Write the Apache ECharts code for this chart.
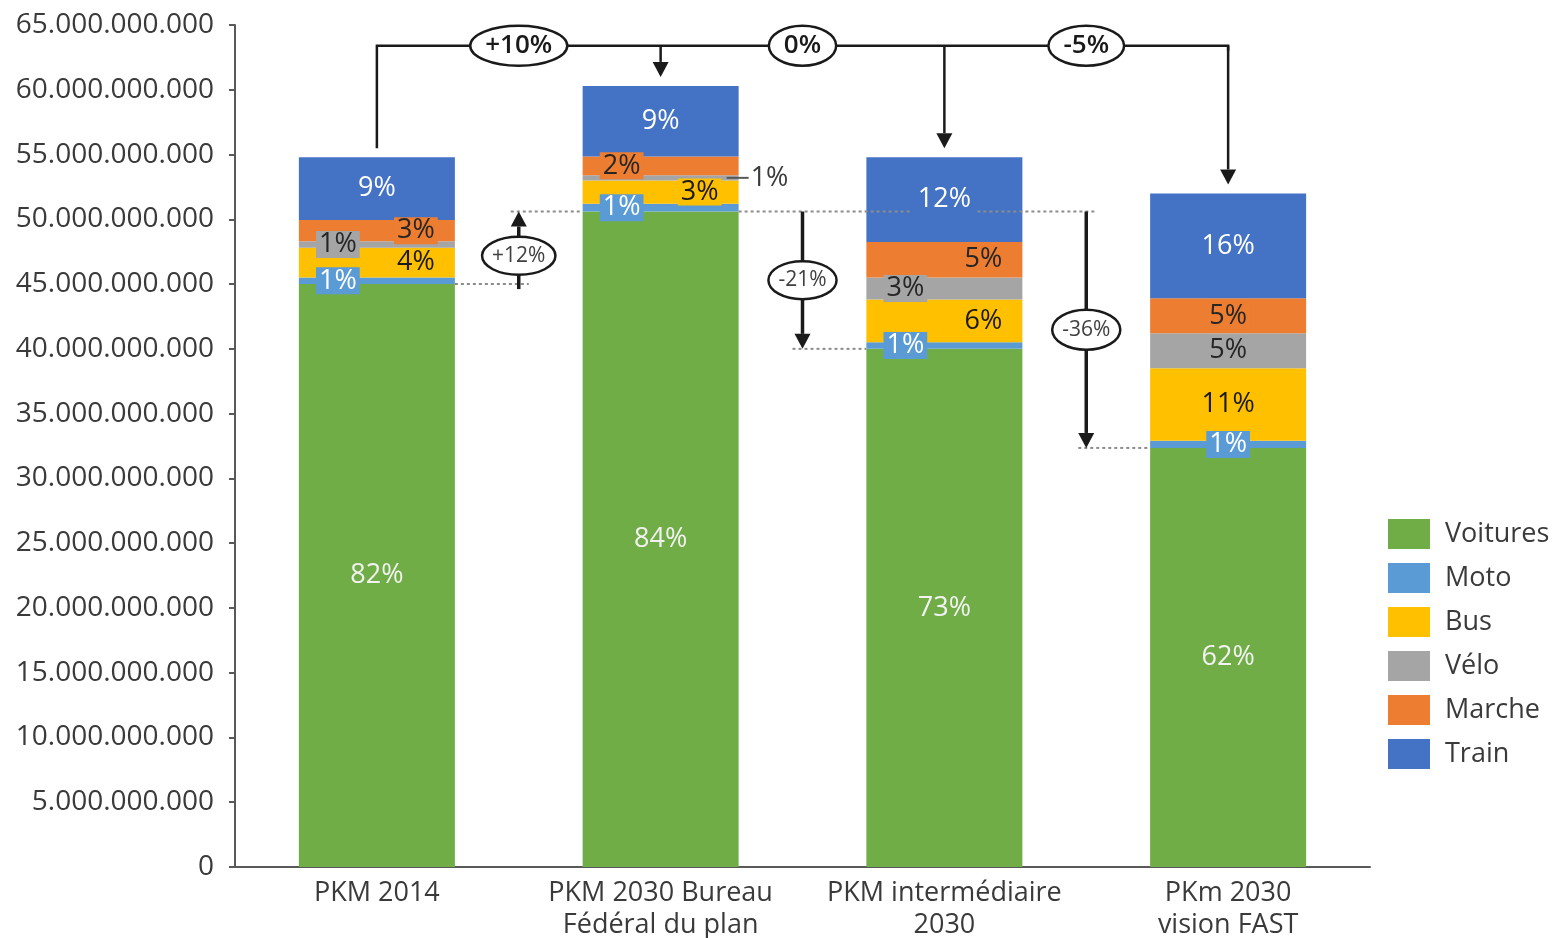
<!DOCTYPE html>
<html>
<head>
<meta charset="utf-8">
<script src="https://cdn.jsdelivr.net/npm/echarts@6/dist/echarts.min.js"></script>
<style>
  html, body { margin: 0; padding: 0; background: #ffffff; }
  #chart { width: 1552px; height: 938px; }
</style>
</head>
<body>
<div id="chart"></div>
<script>
// Passenger-kilometres by transport mode, four scenarios
const categories = ['PKM 2014', 'PKM 2030 Bureau\nFédéral du plan', 'PKM intermédiaire\n2030', 'PKm 2030\nvision FAST'];
const voitures = [45.0e9, 50.6e9, 40.0e9, 32.35e9];
const moto     = [0.5e9, 0.6e9, 0.5e9, 0.55e9];
const bus      = [2.3e9, 1.8e9, 3.3e9, 5.6e9];
const velo     = [0.5e9, 0.4e9, 1.7e9, 2.7e9];
const marche   = [1.65e9, 1.45e9, 2.75e9, 2.7e9];
const train    = [4.85e9, 5.45e9, 6.55e9, 8.1e9];
const seriesNames = ['Voitures', 'Moto', 'Bus', 'Vélo', 'Marche', 'Train'];
const yMax = 65e9;
const yStep = 5e9;

const values = [voitures, moto, bus, velo, marche, train];
const colors = ['#70AD47', '#5B9BD5', '#FFC000', '#A5A5A5', '#ED7D31', '#4472C4'];
const FONT = 'Open Sans';
const BAR_W = 156;
const INK = '#1a1a1a';
const TXT = '#3a3a3a';

const totals = categories.map((_, i) => values.reduce((s, arr) => s + arr[i], 0));
const pct = r => Math.round(r * 100) + '%';
const signedPct = r => {
  const n = Math.round(r * 100);
  return (n > 0 ? '+' : '') + n + '%';
};

// where each segment's share label sits: 0 centred, -1 left, 1 right, 'out' beside the bar
const labelSide = [
  [0, 0, 0, 0],
  [-1, -1, -1, 0],
  [1, 1, 1, 0],
  [-1, 'out', -1, 0],
  [1, -1, 1, 0],
  [0, 0, 0, 0]
];
const labelLook = [
  { color: '#F2F2F2' },
  { color: '#ffffff', backgroundColor: '#5B9BD5', padding: [0, 3] },
  { color: '#1a1a1a', backgroundColor: '#FFC000', padding: [0, 3] },
  { color: '#262626', backgroundColor: '#A5A5A5', padding: [0, 3] },
  { color: '#262626', backgroundColor: '#ED7D31', padding: [0, 3] },
  { color: '#ffffff' }
];

const thousands = v => String(Math.round(v)).replace(/\B(?=(\d{3})+(?!\d))/g, '.');

const series = seriesNames.map((name, s) => ({
  name,
  type: 'bar',
  stack: 'pkm',
  barWidth: BAR_W,
  itemStyle: { color: colors[s] },
  emphasis: { disabled: true },
  data: values[s].map((v, i) => {
    const side = labelSide[s][i];
    const label = side === 'out'
      ? { position: 'right', distance: 12, color: TXT, backgroundColor: 'transparent' }
      : Object.assign({ position: 'inside', offset: [side * 39, 0] }, labelLook[s]);
    return { value: v, label };
  }),
  label: {
    show: true,
    fontFamily: FONT,
    fontSize: 27,
    lineHeight: 27,
    formatter: p => pct(p.value / totals[p.dataIndex])
  }
}));

const chart = echarts.init(document.getElementById('chart'), null, { renderer: 'canvas' });
chart.setOption({
  animation: false,
  backgroundColor: '#ffffff',
  textStyle: { fontFamily: FONT },
  grid: { left: 235, right: 182, top: 25, bottom: 71, containLabel: false, outerBoundsMode: 'none' },
  legend: {
    orient: 'vertical',
    left: 1383,
    top: 514,
    icon: 'rect',
    itemWidth: 42,
    itemHeight: 30,
    itemGap: 14,
    data: seriesNames,
    textStyle: { fontFamily: FONT, fontSize: 27, color: TXT, padding: [0, 0, 0, 10] }
  },
  xAxis: {
    type: 'category',
    data: categories,
    axisLine: { lineStyle: { color: '#595959', width: 2 } },
    axisTick: { show: false },
    axisLabel: { fontFamily: FONT, fontSize: 27, lineHeight: 32, color: TXT, margin: 10, interval: 0 }
  },
  yAxis: {
    type: 'value',
    min: 0,
    max: yMax,
    interval: yStep,
    splitLine: { show: false },
    axisLine: { show: true, lineStyle: { color: '#595959', width: 2 } },
    axisTick: { show: true, length: 6, lineStyle: { color: '#595959', width: 2 } },
    axisLabel: { fontFamily: FONT, fontSize: 28, color: TXT, margin: 21, formatter: thousands }
  },
  series
});

// ---- comparison annotations, placed through the chart's own scales ----
const px = (i, v) => chart.convertToPixel({ xAxisIndex: 0, yAxisIndex: 0 }, [i, v]);
const cx = categories.map((_, i) => px(i, 0)[0]);
const ty = v => px(0, v)[1];
const mid = (a, b) => (cx[a] + cx[b]) / 2;
const half = BAR_W / 2;

const measure = (() => {
  const ctx = document.createElement('canvas').getContext('2d');
  return (txt, font) => { ctx.font = font; return ctx.measureText(txt).width; };
})();

const g = [];
const Z = 20;

function arrow(x, yFrom, yTip, width) {
  const dir = yTip > yFrom ? 1 : -1;
  const hh = 15, hw = 8;
  g.push({ type: 'line', z: Z, shape: { x1: x, y1: yFrom, x2: x, y2: yTip - dir * hh },
           style: { stroke: INK, lineWidth: width } });
  g.push({ type: 'polygon', z: Z, shape: { points: [[x - hw, yTip - dir * hh], [x + hw, yTip - dir * hh], [x, yTip]] },
           style: { fill: INK } });
}
function badge(x, y, txt, size, weight, color, padX, ry) {
  const font = weight + ' ' + size + 'px "' + FONT + '"';
  const rx = Math.max(measure(txt, font) / 2 + padX, ry + 6);
  g.push({ type: 'ellipse', z: Z + 1, shape: { cx: x, cy: y, rx, ry },
           style: { fill: '#ffffff', stroke: INK, lineWidth: 2.5 } });
  g.push({ type: 'text', z: Z + 2, x, y,
           style: { text: txt, font, fill: color, align: 'center', verticalAlign: 'middle' } });
}
function dotted(x1, x2, y) {
  g.push({ type: 'line', z: Z - 1, shape: { x1, y1: y, x2, y2: y },
           style: { stroke: '#8c8c8c', lineWidth: 2, lineDash: [3, 3] } });
}

// bracket comparing each scenario total with 2014
const yBracket = ty(63.4e9);
const gap = 9;
g.push({ type: 'polyline', z: Z, shape: { points: [
  [cx[0], ty(totals[0]) - gap], [cx[0], yBracket], [cx[3], yBracket], [cx[3], yBracket + 5]] },
  style: { stroke: INK, lineWidth: 2.5, fill: null } });
[1, 2, 3].forEach(i => arrow(cx[i], yBracket, ty(totals[i]) - gap, 2.5));
[1, 2, 3].forEach(i => badge(mid(i - 1, i), yBracket, signedPct(totals[i] / totals[0] - 1), 26, 600, INK, 15, 20));

// car traffic compared with the 2030 Bureau du plan scenario
const yV = voitures.map(v => ty(v));
dotted(cx[0] + half, mid(0, 1) + 10, yV[0]);
dotted(mid(0, 1) - 8, cx[1] - half, yV[1]);
dotted(cx[1] + half, cx[2] - 33, yV[1]);
dotted(cx[2] + 33, mid(2, 3) + 10, yV[1]);
dotted(mid(1, 2) - 10, cx[2] - half, yV[2]);
dotted(mid(2, 3) - 8, cx[3] - half, yV[3]);

arrow(mid(0, 1), yV[0] + 5, yV[1], 3.5);
arrow(mid(1, 2), yV[1], yV[2], 3.5);
arrow(mid(2, 3), yV[1], yV[3], 3.5);
badge(mid(0, 1), (yV[0] + yV[1]) / 2 + 8, signedPct(voitures[1] / voitures[0] - 1), 21, 400, '#404040', 10, 19);
badge(mid(1, 2), (yV[1] + yV[2]) / 2, signedPct(voitures[2] / voitures[1] - 1), 21, 400, '#404040', 10, 19);
badge(mid(2, 3), (yV[1] + yV[3]) / 2, signedPct(voitures[3] / voitures[1] - 1), 21, 400, '#404040', 10, 20);

// leader for the small cycling share of the Bureau du plan bar
const veloMid = ty(voitures[1] + moto[1] + bus[1] + velo[1] / 2);
g.push({ type: 'line', z: Z, shape: { x1: cx[1] + half - 12, y1: veloMid, x2: cx[1] + half + 10, y2: veloMid },
         style: { stroke: '#595959', lineWidth: 2 } });

chart.setOption({ graphic: g });
</script>
</body>
</html>
